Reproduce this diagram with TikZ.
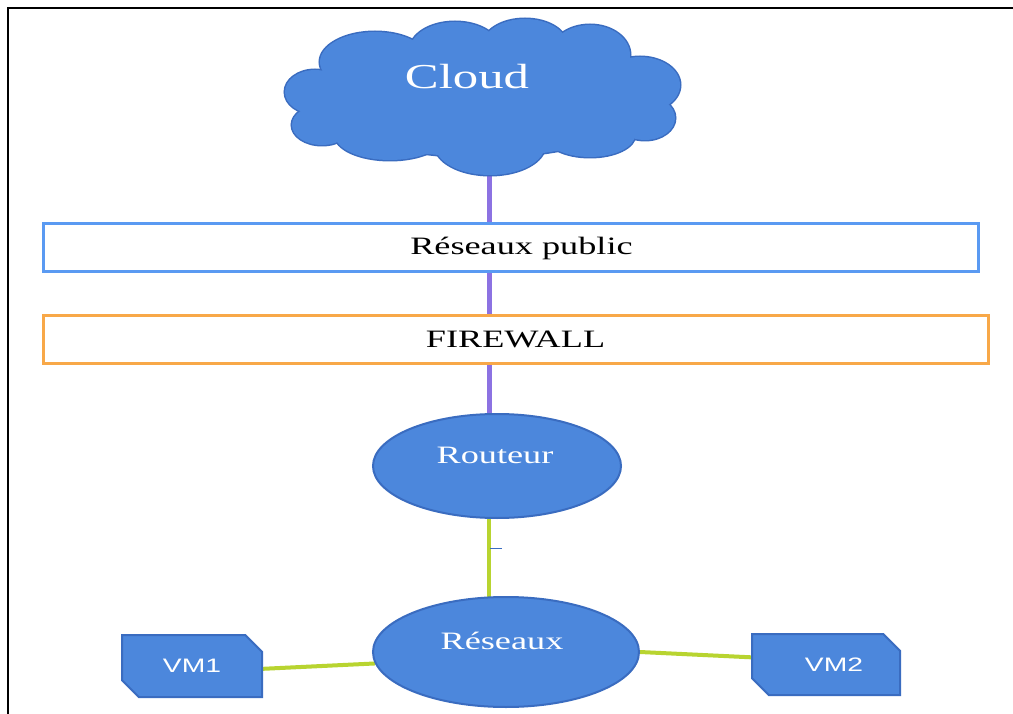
\documentclass[tikz,border=0pt]{standalone}
\usepackage{fontspec}
\usepackage{graphicx}
\setmainfont{Liberation Serif}
\newfontfamily\vmfont{Liberation Sans}
\usetikzlibrary{shapes.misc,shapes.geometric,calc}
\pgfdeclarelayer{background}
\pgfsetlayers{background,main}
\definecolor{nodeblue}{HTML}{4C87DC}
\definecolor{nodeedge}{HTML}{3A6CC0}
\definecolor{pubblue}{HTML}{5A9AF2}
\definecolor{fworange}{HTML}{F8A848}
\definecolor{linkpurple}{HTML}{8C72E2}
\definecolor{linkgreen}{HTML}{B8D430}
% wide lettering, as in the original slide
\newcommand{\widetext}[1]{\scalebox{1.45}[1]{#1}}
% cloud puffs: centre x / centre y / x radius / y radius
\def\cloudpuffs{482/97/170/60, 315/92/30/22, 322/125/30/20, 375/62/55/30,
  455/50/45/28, 525/45/42/26, 590/55/40/30, 640/85/40/28, 645/118/30/22,
  590/135/45/22, 490/145/55/30, 390/135/55/25}
\begin{document}
\begin{tikzpicture}[x=1pt,y=-1pt,
  blob/.style={fill=nodeblue,draw=nodeedge,line width=2pt},
  bar/.style={fill=white,line width=3pt,inner sep=0pt},
  ell/.style={blob,ellipse,inner sep=0pt},
  vmbox/.style={blob,chamfered rectangle,chamfered rectangle corners={north east,south west},
    chamfered rectangle xsep=10pt,chamfered rectangle ysep=10pt,inner sep=0pt,
    text=white,font=\vmfont\fontsize{19.5}{22}\selectfont},
  lbl/.style={text=white,inner sep=0pt,font=\fontsize{25}{30}\selectfont},
  barlbl/.style={font=\fontsize{25}{30}\selectfont},
  uplink/.style={linkpurple,line width=5pt},
  lanlink/.style={linkgreen,line width=4pt}]
\useasboundingbox (0,0) rectangle (1013,714);

% page frame
\draw[line width=2.5pt] (1013,8) -- (8,8) -- (8,714);

% cloud: outline of the union of the puffs, then their fill on top
\foreach \cx/\cy/\rx/\ry in \cloudpuffs
  \draw[nodeedge,line width=3pt] (\cx,\cy) ellipse [x radius=\rx pt,y radius=\ry pt];
\foreach \cx/\cy/\rx/\ry in \cloudpuffs
  \fill[nodeblue] (\cx,\cy) ellipse [x radius=\rx pt,y radius=\ry pt];
\coordinate (cloud) at (482,97);
\node[lbl,font=\fontsize{35}{40}\selectfont] (cloudtext) at (467,77) {\widetext{Cloud}};

% network bands
\node[bar,draw=pubblue,minimum width=935pt,minimum height=48pt,barlbl] (public) at (510.5,248)
  {\hspace*{22pt}\widetext{Réseaux public}};
\node[bar,draw=fworange,minimum width=945pt,minimum height=47pt,barlbl] (firewall) at (515.5,339.5)
  {\widetext{FIREWALL}};

% router and local network
\node[ell,minimum width=248pt,minimum height=104pt] (routeur) at (497,466) {};
\node[lbl] (routeurtext) at (495,455) {\widetext{Routeur}};
\node[ell,minimum width=266pt,minimum height=110pt] (reseaux) at (506,652) {};
\node[lbl] (reseauxtext) at (502,641) {\widetext{Réseaux}};

% virtual machines
\node[vmbox,minimum width=140pt,minimum height=62pt] (vm1) at (192,666) {\widetext{VM1}};
\node[vmbox,minimum width=148pt,minimum height=61pt] (vm2) at (826,664.5) {\hspace*{16pt}\widetext{VM2}};

% links, behind the shapes
\coordinate (trunk) at (489,0);
\begin{pgfonlayer}{background}
  \fill[white] (0,0) rectangle (1013,714);
  \draw[uplink] (trunk |- cloud) -- (trunk |- routeur.center);
  \draw[lanlink] (trunk |- routeur.center) -- (trunk |- reseaux.center);
  \draw[lanlink] ($(vm1.east)+(-4,3)$) -- (reseaux.185);
  \draw[lanlink] (reseaux.east) -- ($(vm2.west)+(4,-7)$);
\end{pgfonlayer}
\draw[nodeedge,line width=0.8pt] (490,548) -- (502,548);
\end{tikzpicture}
\end{document}
